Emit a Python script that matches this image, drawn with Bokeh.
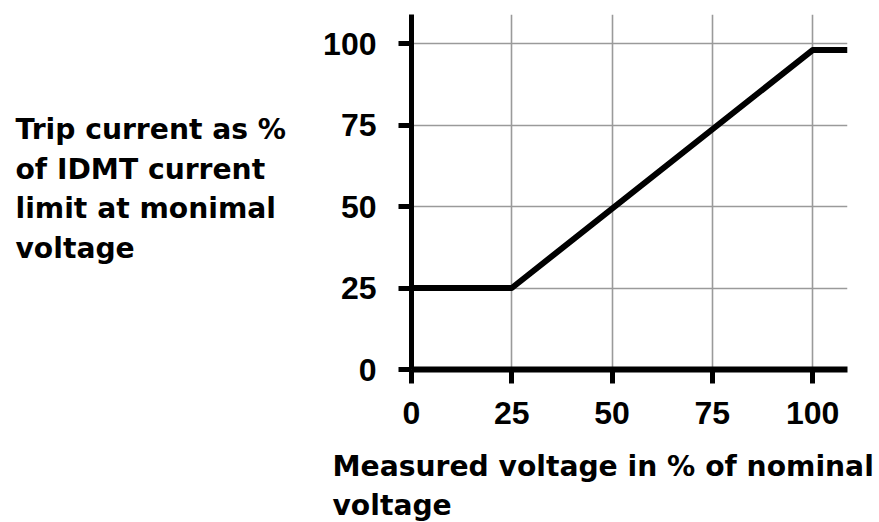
from bokeh.plotting import figure
from bokeh.models import Range1d, FixedTicker, Title
from bokeh.layouts import row
from bokeh.core.properties import value
from bokeh.embed import file_html
from bokeh.resources import INLINE

# Characteristic: trip current (% of IDMT limit) vs measured voltage (% of nominal)
voltage_pct = [0, 25, 100, 108.7]
trip_pct = [25, 25, 98, 98]

tick_values = [0, 25, 50, 75, 100]

y_title_lines = ["Trip current as %", "of IDMT current", "limit at monimal", "voltage"]
x_title_lines = ["Measured voltage in % of nominal", "voltage"]

TICK_FONT = "Liberation Sans"
TITLE_FONT = "DejaVu Sans"
TITLE_SIZE = "28.2px"

LEFT_W = 300
H = 522
FRAME_TOP, FRAME_BOTTOM = 14, 369
FRAME_LEFT, FRAME_RIGHT = 111, 547   # within the chart figure

# --- main chart ---
p = figure(
    frame_width=FRAME_RIGHT - FRAME_LEFT, frame_height=FRAME_BOTTOM - FRAME_TOP,
    x_range=Range1d(0, 108.7), y_range=Range1d(0, 108.9),
    output_backend="svg", toolbar_location=None,
    min_border_left=FRAME_LEFT, min_border_right=32,
    min_border_top=FRAME_TOP, min_border_bottom=H - FRAME_BOTTOM,
)
p.outline_line_color = None
p.background_fill_color = "white"
p.border_fill_color = "white"

for g in (p.xgrid, p.ygrid):
    g.ticker = FixedTicker(ticks=tick_values)
    g.grid_line_color = "#9a9a9a"
    g.grid_line_width = 1.6

for ax in (p.xaxis, p.yaxis):
    ax.ticker = FixedTicker(ticks=tick_values)
    ax.axis_line_color = "black"
    ax.major_tick_line_color = "black"
    ax.major_tick_line_width = 5
    ax.major_tick_in = 0
    ax.minor_tick_line_color = None
    ax.major_label_text_font = TICK_FONT
    ax.major_label_text_font_style = "bold"
    ax.major_label_text_font_size = "32px"
    ax.major_label_text_color = "black"

p.xaxis.axis_line_width = 6
p.xaxis.major_tick_out = 14
p.xaxis.major_label_standoff = 18
p.yaxis.axis_line_width = 5
p.yaxis.major_tick_out = 13
p.yaxis.major_label_standoff = 22

p.line(voltage_pct, trip_pct, line_color="black", line_width=6, line_join="round")

# x-axis title: two left-aligned lines stacked under the axis;
# the first line is pushed down, the second pulled back up to a tighter line pitch
def make_title(text, gap):
    kw = dict(text=text, align="left", vertical_align="bottom", offset=-79,
              text_font=TITLE_FONT, text_font_style="bold",
              text_font_size=TITLE_SIZE, text_color="black")
    try:
        return Title(standoff=gap, **kw)
    except ValueError:
        return Title(standoff=0, **kw)

for t, gap in zip(x_title_lines, (43, -35)):
    p.add_layout(make_title(t, gap), "below")

# --- y-axis title block (left); its frame lines up with the chart frame,
# so the y range runs in pixel rows from FRAME_BOTTOM up to FRAME_TOP ---
left = figure(width=LEFT_W, height=H, x_range=Range1d(0, LEFT_W),
              y_range=Range1d(FRAME_BOTTOM, FRAME_TOP),
              output_backend="svg", toolbar_location=None,
              x_axis_location=None, y_axis_location=None, min_border=0)
left.grid.visible = False
left.outline_line_color = None
left.background_fill_color = "white"
left.border_fill_color = "white"
left.text(x=[15] * len(y_title_lines),
          y=[129 + i * 39.6 for i in range(len(y_title_lines))],
          text=y_title_lines,
          text_font=value(TITLE_FONT), text_font_style="bold",
          text_font_size=value(TITLE_SIZE), text_color="black",
          text_baseline="alphabetic", text_align="left")

layout = row(left, p, spacing=0)

open("out.html", "w").write(file_html(layout, INLINE))
